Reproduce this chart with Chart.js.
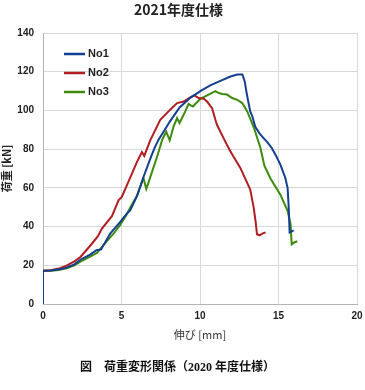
<!DOCTYPE html>
<html>
<head>
<meta charset="utf-8">
<script src="https://cdn.jsdelivr.net/npm/chart.js@4.4.1/dist/chart.umd.min.js"></script>
<style>
  body { margin: 0; background: #fff; }
  #wrap { position: relative; width: 365px; height: 390px; }
  #caption {
    position: absolute; left: 70px; top: 357px; width: 215px; text-align: center;
    font: bold 12px "Liberation Serif", "Noto Sans CJK JP", serif; color: #111;
  }
</style>
</head>
<body>
<div id="wrap">
  <canvas id="chart" width="365" height="390"></canvas>
  <div id="caption">図　荷重変形関係（2020 年度仕様）</div>
</div>
<script>
// 伸び [mm] / 荷重 [kN]
const seriesNames = ['No1', 'No2', 'No3'];
const seriesColors = ['#123f8f', '#b21d22', '#3d8a0e'];

const no1X = [0, 0, 0.5, 1.0, 1.5, 2.0, 2.4, 3.0, 3.4, 3.7, 4.28, 4.92, 5.34, 5.56, 6.0, 6.4, 6.83, 7.1, 7.36, 7.6, 8.1, 8.7, 9.38, 10.02, 10.65, 11.3, 11.94, 12.37, 12.7, 12.85, 12.95, 13.04, 13.2, 13.33, 13.52, 13.8, 14.05, 14.3, 14.58, 14.85, 15.12, 15.44, 15.58, 15.65, 15.71, 15.85, 15.97];
const no1Y = [0, 17.2, 17.3, 17.8, 18.8, 20.5, 23.0, 25.5, 27.8, 28.2, 36.4, 42.4, 46.7, 48.5, 56.0, 65.6, 75.0, 80.5, 84.9, 88.0, 94.5, 101.5, 106.5, 110.0, 112.9, 115.3, 117.5, 118.5, 118.6, 115.0, 110.0, 106.0, 99.5, 97.0, 91.5, 88.0, 85.7, 83.5, 80.5, 76.5, 72.0, 65.0, 60.0, 50.0, 37.0, 37.5, 38.0];

const no2X = [0, 0, 0.5, 1.0, 1.5, 2.0, 2.4, 3.1, 3.5, 3.75, 4.39, 4.81, 5.02, 5.34, 5.98, 6.3, 6.45, 6.83, 7.47, 8.1, 8.54, 8.96, 9.38, 9.64, 9.92, 10.24, 10.45, 10.77, 10.98, 11.08, 11.5, 11.93, 12.57, 13.2, 13.42, 13.55, 13.63, 13.8, 14.0, 14.18];
const no2Y = [0, 17.2, 17.4, 18.3, 19.8, 22.0, 24.4, 31.0, 35.0, 39.0, 45.4, 53.6, 55.3, 61.3, 73.3, 78.5, 76.5, 84.5, 95.2, 100.4, 103.8, 104.6, 106.7, 107.8, 106.4, 106.0, 104.6, 101.2, 95.2, 92.6, 85.7, 78.9, 70.3, 59.1, 49.8, 42.0, 36.0, 35.5, 36.5, 37.0];

const no3X = [0, 0, 0.5, 1.0, 1.5, 2.0, 2.36, 3.0, 3.43, 4.07, 4.49, 4.92, 5.34, 5.56, 5.98, 6.4, 6.58, 6.94, 7.3, 7.6, 7.85, 8.07, 8.32, 8.54, 8.7, 9.06, 9.27, 9.55, 10.02, 10.55, 10.98, 11.2, 11.42, 11.72, 12.05, 12.37, 12.69, 13.01, 13.44, 13.84, 14.1, 14.48, 15.12, 15.58, 15.77, 15.84, 16.0, 16.2];
const no3Y = [0, 17.2, 17.2, 17.6, 18.5, 20.0, 21.8, 24.5, 26.4, 32.5, 36.3, 40.9, 46.4, 49.9, 55.9, 65.1, 59.4, 68.1, 77.0, 85.0, 89.0, 84.5, 91.8, 96.0, 93.5, 99.5, 103.3, 102.0, 106.0, 108.2, 110.0, 109.0, 108.5, 108.2, 106.4, 105.5, 103.8, 99.5, 90.9, 81.0, 71.5, 65.0, 56.5, 48.1, 41.2, 30.8, 31.8, 32.4];

const xTicks = [0, 5, 10, 15, 20];
const yTicks = [0, 20, 40, 60, 80, 100, 120, 140];

function toPoints(xs, ys) {
    return xs.map((x, i) => ({ x: x, y: ys[i] }));
}

const allX = [no1X, no2X, no3X];
const allY = [no1Y, no2Y, no3Y];

// 凡例をグラフ内の左上に描く
const innerLegend = {
    id: 'innerLegend',
    afterDraw(chart) {
        const ctx = chart.ctx;
        const area = chart.chartArea;
        ctx.save();
        ctx.font = 'bold 11px "Liberation Sans", Arial, sans-serif';
        ctx.textBaseline = 'middle';
        chart.data.datasets.forEach((ds, i) => {
            const y = area.top + 21 + i * 19;
            const x = area.left + 21;
            ctx.strokeStyle = ds.borderColor;
            ctx.lineWidth = 2.5;
            ctx.beginPath();
            ctx.moveTo(x, y);
            ctx.lineTo(x + 21, y);
            ctx.stroke();
            ctx.fillStyle = '#222';
            ctx.fillText(ds.label, x + 24, y);
        });
        ctx.restore();
    }
};

const ctx = document.getElementById('chart').getContext('2d');
new Chart(ctx, {
    type: 'line',
    data: {
        datasets: seriesNames.map((name, i) => ({
            label: name,
            data: toPoints(allX[i], allY[i]),
            borderColor: seriesColors[i],
            backgroundColor: seriesColors[i],
            borderWidth: 2,
            pointRadius: 0,
            tension: 0,
            fill: false
        }))
    },
    options: {
        responsive: false,
        animation: false,
        layout: { padding: { left: 0, right: 8, top: 0, bottom: 40 } },
        plugins: {
            legend: { display: false },
            tooltip: { enabled: false },
            title: {
                display: true,
                text: '2021年度仕様',
                color: '#222',
                font: { family: '"Noto Sans CJK JP", sans-serif', size: 14, weight: 'bold' },
                padding: { top: 1, bottom: 15.2 }
            }
        },
        scales: {
            x: {
                type: 'linear',
                min: 0,
                max: 20,
                afterFit: s => { s.height = 46; s.paddingRight = 0; s.paddingLeft = 0; },
                afterBuildTicks: s => { s.ticks = xTicks.map(v => ({ value: v })); },
                ticks: {
                    padding: 6,
                    color: '#222',
                    font: { family: '"Liberation Sans", Arial, sans-serif', size: 10, weight: 'bold' },
                    maxRotation: 0
                },
                grid: { color: '#d9d9d9', drawTicks: false },
                border: { color: '#b5b5b5' },
                title: {
                    display: true,
                    text: '伸び [mm]',
                    color: '#333',
                    font: { family: '"Noto Sans CJK JP", sans-serif', size: 11 },
                    padding: { top: 0, bottom: 9 }
                }
            },
            y: {
                min: 0,
                max: 140,
                afterFit: s => { s.width = 43; },
                afterBuildTicks: s => { s.ticks = yTicks.map(v => ({ value: v })); },
                ticks: {
                    padding: 9,
                    color: '#222',
                    font: { family: '"Liberation Sans", Arial, sans-serif', size: 10, weight: 'bold' }
                },
                grid: { color: '#d9d9d9', drawTicks: false },
                border: { color: '#b5b5b5' },
                title: {
                    display: true,
                    text: '荷重 [kN]',
                    color: '#222',
                    font: { family: '"Noto Sans CJK JP", sans-serif', size: 11, weight: 'bold' },
                    padding: { top: 0, bottom: 0 }
                }
            }
        }
    },
    plugins: [innerLegend]
});
</script>
</body>
</html>
